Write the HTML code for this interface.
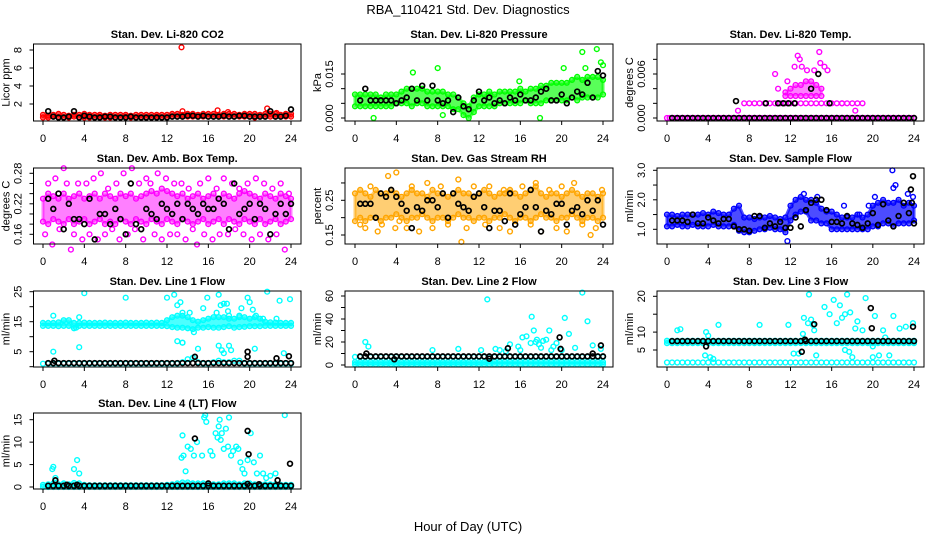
<!DOCTYPE html>
<html><head><meta charset="utf-8"><style>
html,body{margin:0;padding:0;background:#fff;}
svg{display:block;font-family:"Liberation Sans",sans-serif;}
</style></head><body>
<svg id="chart" width="936" height="540" viewBox="0 0 936 540">
<text x="468" y="14" text-anchor="middle" font-size="13">RBA_110421  Std. Dev. Diagnostics</text>
<text x="468" y="531" text-anchor="middle" font-size="13">Hour of Day (UTC)</text>
</svg>
<script>
const xTicks=[0,4,8,12,16,20,24];
// CO2
const co2Lo=[0.5,0.5,0.6,0.5,0.5,0.5,0.6,0.5,0.5,0.5,0.5,0.6,0.5,0.5,0.5,0.5,0.6,0.5,0.5,0.5,0.5,0.5,0.6,0.5,0.5,0.6,0.6,0.6,0.6,0.6,0.6,0.6,0.6,0.6,0.6,0.6,0.6,0.6,0.6,0.6,0.6,0.5,0.6,0.6,0.6,0.6,0.6,0.6,0.6];
const co2Hi=[0.8,0.7,0.8,0.9,0.8,0.7,0.8,0.8,0.9,0.8,0.8,0.8,0.7,0.8,0.8,0.8,0.8,0.7,0.8,0.8,0.8,0.8,0.8,0.8,0.8,0.9,0.9,0.8,0.9,0.9,0.8,0.9,0.9,0.9,0.8,0.9,0.9,0.9,0.8,0.9,0.9,0.9,0.8,0.9,0.9,0.9,0.8,0.9,0.9];
const co2Blk=[1.2,0.6,0.5,0.5,0.6,1.2,0.5,0.7,0.6,0.5,0.5,0.6,0.6,0.5,0.5,0.5,0.6,0.5,0.5,0.5,0.5,0.5,0.5,0.5,0.6,0.6,0.6,0.7,0.7,0.6,0.7,0.6,0.6,0.6,0.7,0.6,0.6,0.7,0.7,0.6,0.6,0.6,0.6,1.2,0.6,0.6,0.7,1.4];
const co2OutT=[13.4,13.5,16.9,17.9,21.7,22.6];
const co2OutV=[8.3,1.2,1.3,1.1,1.5,1.0];
// Pressure
const presLo=[0.004,0.004,0.004,0.004,0.004,0.004,0.004,0.004,0.005,0.005,0.005,0.004,0.005,0.005,0.004,0.004,0.004,0.004,0.004,0.003,0.003,0.001,0.000,0.002,0.004,0.004,0.004,0.004,0.005,0.005,0.005,0.005,0.005,0.006,0.005,0.005,0.005,0.006,0.006,0.006,0.006,0.006,0.007,0.006,0.007,0.007,0.007,0.007,0.008];
const presHi=[0.008,0.008,0.008,0.008,0.008,0.007,0.008,0.008,0.008,0.009,0.010,0.010,0.010,0.010,0.009,0.009,0.009,0.009,0.008,0.008,0.007,0.005,0.004,0.007,0.008,0.008,0.009,0.008,0.009,0.009,0.009,0.009,0.010,0.009,0.010,0.010,0.011,0.011,0.012,0.012,0.012,0.012,0.013,0.014,0.013,0.014,0.014,0.014,0.013];
const presBlk=[0.006,0.010,0.006,0.006,0.006,0.006,0.006,0.005,0.006,0.007,0.010,0.006,0.011,0.006,0.011,0.006,0.005,0.006,0.002,0.007,0.004,0.003,0.006,0.009,0.006,0.007,0.005,0.006,0.005,0.007,0.006,0.008,0.006,0.006,0.007,0.009,0.010,0.006,0.006,0.008,0.005,0.007,0.009,0.008,0.012,0.007,0.016,0.0145];
const presOutT=[1.8,5.6,8.0,8.5,15.9,17.9,20.2,22.0,22.3,23.4,23.8,24.0];
const presOutV=[0,0.0155,0.017,0.001,0.0125,0,0.017,0.0225,0.017,0.0235,0.019,0.018];
// Temp
const tempBase=[0,0,0,0,0,0,0,0,0,0,0,0,0,0,0,0,0,0,0,0,0,0,0,0,0,0,0,0,0,0,0,0,0,0,0,0,0,0,0,0,0,0,0,0,0,0,0,0,0];
const tempBase2=[0,0,0,0,0,0,0,0,0,0,0,0,0,0,0,0,0,0,0,0,0,0,0,0,0,0,0,0,0,0,0,0,0,0,0,0,0,0,0,0,0,0,0,0,0,0,0,0];
const tempLvl=[0.002,0.002,0.002,0.002,0.002,0.002,0.002,0.002,0.002,0.002,0.002,0.002,0.002,0.002,0.002,0.002,0.002,0.002,0.002,0.002,0.002,0.002,0.002];
const tempClLo=[0.003,0.003,0.003,0.003,0.003,0.003,0.003,0.003];
const tempClHi=[0.0035,0.004,0.0045,0.0045,0.005,0.005,0.0045,0.004];
const tempOutT=[6.9,10.5,10.8,11.7,12.4,12.7,12.9,13.1,13.6,14.3,14.8,14.9,15.3,15.6,18.3,19.0,17.0];
const tempOutV=[0.001,0.006,0.004,0.005,0.007,0.0085,0.008,0.007,0.0065,0.0065,0.009,0.0075,0.007,0.0065,0.001,0.002,0.002];
const tempBlk=[0,0,0,0,0,0,0,0,0,0,0,0,0,0,0,0,0,0,0,0,0,0,0,0,0,0,0,0,0,0,0,0,0,0,0,0,0,0,0,0,0,0,0,0,0,0,0,0];
const tempBlkOutT=[6.7,9.6,10.8,11.3,11.8,12.4,14.0,14.7,15.8];
const tempBlkOutV=[0.0023,0.002,0.002,0.002,0.002,0.002,0.004,0.006,0.002];
// Amb box
const ambLo=[0.185,0.18,0.19,0.185,0.18,0.19,0.18,0.185,0.19,0.18,0.185,0.19,0.18,0.185,0.18,0.19,0.185,0.18,0.19,0.185,0.18,0.19,0.185,0.18,0.19,0.185,0.18,0.19,0.185,0.18,0.185,0.19,0.18,0.185,0.19,0.18,0.19,0.185,0.18,0.19,0.185,0.18,0.19,0.18,0.185,0.19,0.18,0.185,0.19];
const ambHi=[0.23,0.24,0.235,0.23,0.24,0.23,0.235,0.24,0.23,0.235,0.24,0.23,0.24,0.235,0.23,0.24,0.235,0.24,0.23,0.235,0.24,0.245,0.24,0.25,0.245,0.24,0.235,0.24,0.23,0.235,0.24,0.23,0.235,0.24,0.23,0.24,0.235,0.23,0.24,0.245,0.24,0.235,0.23,0.24,0.235,0.23,0.24,0.235,0.23];
const ambOutT=[0.2,0.5,0.9,1.2,1.6,2.0,2.3,2.7,3.0,3.4,3.8,4.2,4.5,4.9,5.3,5.6,6.0,6.3,6.7,7.1,7.4,7.8,8.2,8.6,8.9,9.3,9.7,10.0,10.4,10.8,11.1,11.5,11.9,12.3,12.7,13.0,13.4,13.8,14.1,14.5,14.9,15.2,15.6,16.0,16.4,16.8,17.1,17.5,17.9,18.3,18.6,19.0,19.4,19.8,20.2,20.6,21.0,21.4,21.8,22.2,22.6,23.0,23.4,23.8];
const ambOutV=[0.16,0.26,0.14,0.27,0.17,0.29,0.26,0.13,0.16,0.26,0.15,0.26,0.16,0.27,0.15,0.28,0.16,0.25,0.17,0.26,0.15,0.28,0.16,0.29,0.17,0.26,0.15,0.27,0.26,0.16,0.28,0.15,0.27,0.16,0.26,0.16,0.26,0.15,0.25,0.17,0.14,0.26,0.16,0.27,0.15,0.25,0.16,0.27,0.16,0.26,0.17,0.25,0.16,0.26,0.15,0.27,0.16,0.26,0.15,0.25,0.16,0.26,0.13,0.24];
const ambBlk=[0.23,0.21,0.24,0.17,0.22,0.19,0.19,0.18,0.23,0.15,0.20,0.20,0.18,0.21,0.19,0.16,0.26,0.18,0.17,0.21,0.20,0.19,0.22,0.21,0.20,0.22,0.19,0.22,0.21,0.20,0.22,0.21,0.21,0.23,0.22,0.17,0.26,0.20,0.21,0.22,0.19,0.22,0.21,0.16,0.20,0.22,0.20,0.22];
// RH
const rhLo=[0.19,0.20,0.19,0.20,0.20,0.19,0.20,0.20,0.21,0.20,0.19,0.20,0.20,0.21,0.20,0.19,0.20,0.20,0.19,0.20,0.21,0.20,0.20,0.19,0.20,0.20,0.19,0.20,0.20,0.21,0.20,0.19,0.20,0.20,0.19,0.20,0.21,0.20,0.20,0.19,0.20,0.20,0.21,0.20,0.19,0.20,0.20,0.19,0.20];
const rhHi=[0.27,0.28,0.27,0.26,0.28,0.27,0.27,0.28,0.27,0.26,0.27,0.28,0.27,0.27,0.26,0.28,0.27,0.27,0.26,0.27,0.28,0.27,0.27,0.26,0.27,0.28,0.27,0.26,0.27,0.27,0.28,0.27,0.26,0.27,0.28,0.29,0.27,0.26,0.27,0.27,0.26,0.27,0.28,0.27,0.26,0.27,0.27,0.26,0.27];
const rhOutT=[0.5,1.0,1.5,2.2,2.6,3.2,3.9,4.0,4.3,5.0,5.5,6.2,7.0,7.5,8.3,9.0,10.0,10.3,10.8,11.5,12.6,13.0,14.0,14.4,15.0,16.2,17.0,17.5,18.0,18.8,19.5,20.0,20.5,21.2,22.0,22.8,23.3,23.9];
const rhOutV=[0.18,0.17,0.29,0.16,0.18,0.32,0.17,0.33,0.19,0.17,0.29,0.16,0.30,0.17,0.29,0.18,0.31,0.13,0.17,0.29,0.18,0.29,0.17,0.28,0.16,0.29,0.18,0.30,0.16,0.28,0.17,0.29,0.16,0.30,0.18,0.15,0.17,0.28];
const rhBlk=[0.24,0.24,0.24,0.20,0.27,0.26,0.28,0.26,0.24,0.22,0.17,0.23,0.22,0.25,0.25,0.23,0.27,0.20,0.27,0.24,0.23,0.22,0.26,0.27,0.23,0.17,0.22,0.22,0.19,0.27,0.18,0.21,0.23,0.28,0.23,0.16,0.22,0.21,0.24,0.24,0.18,0.22,0.23,0.21,0.25,0.22,0.25,0.18];
// Sample flow
const sfLo=[1.1,1.1,1.15,1.1,1.1,1.15,1.1,1.1,1.1,1.15,1.1,1.1,1.1,1.15,0.95,0.9,0.9,0.95,1.0,1.0,1.05,1.0,1.0,0.9,1.3,1.5,1.6,1.6,1.3,1.3,1.2,1.2,1.0,1.0,1.0,1.0,1.0,1.0,1.0,1.0,1.1,1.1,1.2,1.2,1.1,1.2,1.2,1.2,1.3];
const sfHi=[1.5,1.5,1.45,1.5,1.5,1.5,1.5,1.55,1.5,1.6,1.55,1.5,1.5,1.7,1.8,1.4,1.4,1.35,1.4,1.4,1.45,1.4,1.35,1.4,1.8,2.0,2.1,2.0,2.0,1.9,1.7,1.6,1.6,1.5,1.4,1.4,1.4,1.5,1.4,1.5,1.8,1.9,2.0,1.9,1.9,2.0,1.8,1.9,1.8];
const sfOutT=[11.7,20.2,21.9,22.0,22.2,23.4,23.9,13.3,14.6,17.2,18.7,19.6];
const sfOutV=[0.6,2.1,3.0,2.4,2.5,2.2,2.1,2.2,2.1,1.8,1.5,1.8];
const sfBlk=[1.3,1.3,1.3,1.25,1.5,1.2,1.2,1.4,1.3,1.2,1.35,1.35,1.1,1.0,1.0,0.95,1.45,1.45,1.05,1.2,1.1,1.25,1.05,1.05,1.4,1.1,1.65,1.9,2.0,2.0,1.65,1.25,1.25,1.2,1.45,1.2,1.15,1.05,1.2,1.55,1.15,1.85,1.3,1.1,1.45,1.9,1.55,1.2];
const sfBlkOutT=[23.7,23.9,23.8];
const sfBlkOutV=[2.35,2.8,1.9];
// Line 1
const l1Lo=[13.6,13.6,13.6,13.5,13.6,13.6,12.8,13.6,13.6,13.6,13.6,13.6,13.6,13.6,13.6,13.6,13.6,13.6,13.6,13.6,13.6,13.6,13.6,13.6,13.5,13.2,13.0,13.0,12.8,12.5,13.0,13.0,13.2,13.0,13.0,13.2,13.5,13.0,13.2,13.3,13.5,13.5,13.5,13.6,13.6,13.6,13.6,13.6,13.6];
const l1Hi=[14.6,14.6,14.6,14.8,15.5,15.5,14.6,14.6,14.7,14.6,14.6,14.6,14.7,14.6,14.6,14.6,14.7,14.6,14.6,14.6,14.7,14.6,14.7,14.6,15.5,16.5,17.0,17.0,16.5,15.5,15.0,15.5,16.0,16.5,16.5,16.5,16.0,16.0,16.5,16.5,16.0,16.5,16.0,15.0,14.8,14.7,14.6,14.6,14.6];
const l1Base=[1.0,1.0,1.0,1.0,1.0,1.0,1.0,1.0,1.0,1.0,1.0,1.0,1.0,1.0,1.0,1.0,1.0,1.0,1.0,1.0,1.0,1.0,1.0,1.0,1.0,1.0,1.0,1.5,2.5,3.0,1.5,1.0,1.0,1.5,2.0,1.5,1.5,2.0,2.0,1.0,1.0,1.0,1.0,1.0,1.0,1.0,1.0,1.0,1.0];
const l1OutT=[1.0,1.0,3.2,3.5,3.5,4.0,8.0,12.0,12.7,13.0,13.3,13.5,13.5,14.2,14.6,15.5,15.9,16.8,17.0,17.2,17.5,17.8,17.9,18.0,19.0,19.2,19.8,20.0,20.3,20.6,21.3,21.7,22.6,22.9,23.3,23.9,13.0,13.5,15.0,17.0,17.3,17.5,18.0,18.2,20.5];
const l1OutV=[5,17,13,6.5,16.5,24.5,23,23,24,20.5,21.5,18,8,18,11.5,19.5,23,18,24,20.5,21,21,18.5,17,17,19.5,23,21.5,19,17,16,25,16,22,4.5,22.5,8.5,8,6,7,5.5,4.5,7,5.5,6];
const l1Blk=[1.2,1.2,1.2,1.2,1.2,1.2,1.2,1.2,1.2,1.2,1.2,1.2,1.2,1.2,1.2,1.2,1.2,1.2,1.2,1.2,1.2,1.2,1.2,1.2,1.2,1.2,1.2,1.2,1.2,1.2,1.2,1.2,1.2,1.2,1.2,1.2,1.2,1.2,1.2,1.2,1.2,1.2,1.2,1.2,1.2,1.2,1.2,1.2];
const l1BlkOutT=[1.1,14.7,19.8,19.8,22.6,23.8];
const l1BlkOutV=[2,3.3,5,3.3,2.8,3.5];
// Line 2
const l2Lo=[0.5,0.5,0.5,0.5,0.5,0.5,0.5,0.5,0.5,0.5,0.5,0.5,0.5,0.5,0.5,0.5,0.5,0.5,0.5,0.5,0.5,0.5,0.5,0.5,0.5,0.5,0.5,0.5,0.5,0.5,0.5,0.5,0.5,0.5,0.5,0.5,0.5,0.5,0.5,0.5,0.5,0.5,0.5,0.5,0.5,0.5,0.5,0.5,0.5];
const l2Hi=[2.5,2.5,2.5,2.5,2.5,2.5,2.5,2.5,2.5,2.5,2.5,2.5,2.5,2.5,2.5,2.5,2.5,2.5,2.5,2.5,2.5,2.5,2.5,2.5,2.5,2.5,3,3,3,3,3,3,3,3,3,3,3,3,3,3,3,3,3,3,3,3,3,3,2.5];
const l2Lvl=[7,7,7,7,7,7,7,7,7,7,7,7,7,7,7,7,7,7,7,7,7,7,7,7,7,7,7,7,7,7,7,7,7,7,7,7,7,7,7,7,7,7,7,7,7,7,7,7,7];
const l2OutT=[1.0,1.3,7.5,10.0,12.8,13.6,14.0,15.0,15.8,16.2,16.6,17.0,17.1,17.3,17.6,17.8,18.2,18.5,18.8,19.2,19.5,20.0,20.3,20.7,21.3,22.0,22.5,23.0,23.8,17.5,18.0,19.0,14.6,16.0,12.2];
const l2OutV=[20,16,13,14,57,14,13,18,16,24,25,19,42,30,22,18,21,22,30,16,19,13,41,27,15,63,38,17,14,20,15,13,12,13,13];
const l2Blk=[7.5,7.5,7.5,7.5,7.5,7.5,7.5,7.5,7.5,7.5,7.5,7.5,7.5,7.5,7.5,7.5,7.5,7.5,7.5,7.5,7.5,7.5,7.5,7.5,7.5,7.5,7.5,7.5,7.5,7.5,7.5,7.5,7.5,7.5,7.5,7.5,7.5,7.5,7.5,7.5,7.5,7.5,7.5,7.5,7.5,7.5,7.5,7.5];
const l2BlkOutT=[1.1,3.8,13.0,14.8,19.8,19.9,23.0,23.8];
const l2BlkOutV=[10,5,5.5,14.5,24,14,10,17];
// Line 3
const l3Base=[1.5,1.5,1.5,1.5,1.5,1.5,1.5,1.5,1.5,1.5,1.5,1.5,1.5,1.5,1.5,1.5,1.5,1.5,1.5,1.5,1.5,1.5,1.5,1.5,1.5,1.5,1.5,1.5,1.5,1.5,1.5,1.5,1.5,1.5,1.5,1.5,1.5,1.5,1.5,1.5,1.5,1.5,1.5,1.5,1.5,1.5,1.5,1.5,1.5];
const l3Lo=[6.9,6.9,6.9,6.9,6.9,6.9,6.9,6.9,6.9,6.9,6.9,6.9,6.9,6.9,6.9,6.9,6.9,6.9,6.9,6.9,6.9,6.9,6.9,6.9,6.9,6.9,6.9,6.9,6.9,6.9,6.9,6.9,6.9,6.9,6.9,6.9,6.9,6.9,6.9,6.9,6.9,6.9,6.9,6.9,6.9,6.9,6.9,6.9,6.9];
const l3Hi=[7.6,7.6,7.6,7.6,7.6,7.6,7.6,7.6,7.6,7.6,7.6,7.6,7.6,7.6,7.6,7.6,7.6,7.6,7.6,7.6,7.6,7.6,7.6,7.6,7.6,7.6,7.6,7.6,7.6,7.6,7.6,7.6,7.6,7.6,7.6,7.6,7.6,7.6,7.6,7.6,7.6,7.6,7.6,7.6,7.6,7.6,7.6,7.6,7.6];
const l3OutT=[1.0,1.3,3.7,3.8,4.0,4.2,4.5,5.0,9.0,11.8,12.8,13.2,13.3,13.8,14.0,14.2,14.3,14.5,15.3,15.8,16.2,16.5,16.8,17.0,17.3,17.5,17.7,17.8,18.0,18.3,18.5,19.0,19.3,20.0,20.2,20.6,21.0,21.2,21.6,22.0,22.6,23.2,23.9,12.3,13.7,17.3,20.0];
const l3OutV=[10.5,10.8,3.5,10,9,3,2.5,12,12,12,4,9.5,14,20.5,13.5,12,10.5,3.5,17,15,19,12.5,17.5,14,15,20.5,4.5,15.5,3,11,13,10.5,19.5,3,14.5,3.5,10.5,8.5,3.5,14.5,11,11.5,12.5,4,12.5,5,6];
const l3Blk=[7.5,7.5,7.5,7.5,7.5,7.5,7.5,7.5,7.5,7.5,7.5,7.5,7.5,7.5,7.5,7.5,7.5,7.5,7.5,7.5,7.5,7.5,7.5,7.5,7.5,7.5,7.5,7.5,7.5,7.5,7.5,7.5,7.5,7.5,7.5,7.5,7.5,7.5,7.5,7.5,7.5,7.5,7.5,7.5,7.5,7.5,7.5,7.5];
const l3BlkOutT=[3.8,13.1,13.4,14.3,19.8,19.9,23.9];
const l3BlkOutV=[6,4.5,7.9,12.2,16.7,11.1,11.5];
// Line 4
const l4Lo=[0,0,0,0,0,0,0,0,0,0,0,0,0,0,0,0,0,0,0,0,0,0,0,0,0,0,0,0,0,0,0,0,0,0,0,0,0,0,0,0,0,0,0,0,0,0,0,0,0];
const l4Hi=[0.5,0.6,0.8,0.6,0.8,0.6,0.9,0.8,0.5,0.4,0.4,0.4,0.4,0.4,0.4,0.4,0.4,0.4,0.4,0.4,0.4,0.4,0.4,0.4,0.5,0.6,0.8,1.0,1.0,0.8,0.8,0.8,0.6,0.6,0.6,0.8,0.8,0.8,0.6,0.8,0.8,0.6,0.6,0.6,0.6,0.6,0.5,0.5,0.5];
const l4OutT=[0.9,1.0,1.2,3.0,3.3,3.5,13.4,13.5,13.6,13.8,14.0,14.3,14.6,14.9,15.4,15.6,15.7,15.8,16.2,16.4,16.7,16.9,17.0,17.1,17.2,17.3,17.5,17.7,17.9,18.0,18.2,18.4,18.7,18.9,19.1,19.3,19.5,19.8,20.1,20.4,20.7,21.0,21.3,21.6,22.0,22.5,23.4,12.7];
const l4OutV=[4,4.5,2,4,6,3,6.5,11.5,7,3.5,9,8.5,7,10,7,15.5,16,14.5,8,7,12,11,13.5,15,10.5,12,8.5,13,9,15.5,7,8,9,8.5,5.5,4,3,6,12,5.5,3,7,3,2,2.5,3,16];
const l4Blk=[0.3,0.3,0.3,0.3,0.3,0.3,0.3,0.3,0.3,0.3,0.3,0.3,0.3,0.3,0.3,0.3,0.3,0.3,0.3,0.3,0.3,0.3,0.3,0.3,0.3,0.3,0.3,0.3,0.3,0.3,0.3,0.3,0.3,0.3,0.3,0.3,0.3,0.3,0.3,0.3,0.3,0.3,0.3,0.3,0.3,0.3,0.3,0.3];
const l4BlkOutT=[1.2,2.3,3.3,14.7,16.0,19.8,19.9,22.7,23.9,19.8,20.9];
const l4BlkOutV=[1.5,0.5,0.5,10.8,0.8,12.5,7.3,1.5,5.2,0.7,0.6];

const NS='http://www.w3.org/2000/svg';
const svg=document.getElementById('chart');
const colL=[33.5,345,657], colX0=[43,355,667], colX24=[291,603,914], colR=[301,613,924];
const rowT=[44,168,291,413], rowB=[121,244,367,489];
function mk(tag,attrs,parent){const e=document.createElementNS(NS,tag);for(const k in attrs)e.setAttribute(k,attrs[k]);parent.appendChild(e);return e;}

function panel(p){
  const g=mk('g',{},svg);
  
  
  const L=colL[p.c],R=colR[p.c],T=rowT[p.r],B=rowB[p.r],x0=colX0[p.c],x24=colX24[p.c];
  const xs=t=>x0+t*(x24-x0)/24;
  const ys=v=>p.cal[1]+(v-p.cal[0])*(p.cal[3]-p.cal[1])/(p.cal[2]-p.cal[0]);
  const uni=(arr,t0,t1)=>arr.map((v,i)=>[t0+i*(t1-t0)/Math.max(1,arr.length-1),v]);
  const dot=(parent,t,v,col,w)=>mk('circle',{cx:xs(t).toFixed(1),cy:ys(v).toFixed(1),r:2.4,fill:'none',stroke:col,'stroke-width':w},parent);
  const op=p.op||0.7;
  const sg=mk('g',{},g);
  
  
  (p.bands||[]).forEach(b=>{
    const lo=uni(b.lo,b.t0,b.t1), hi=uni(b.hi,b.t0,b.t1);
    const pts=lo.map(q=>xs(q[0]).toFixed(1)+','+ys(q[1]).toFixed(1)).concat(hi.slice().reverse().map(q=>xs(q[0]).toFixed(1)+','+ys(q[1]).toFixed(1)));
    const poly=mk('polygon',{points:pts.join(' '),fill:p.col,'fill-opacity':op,stroke:p.col,'stroke-opacity':op,'stroke-width':3,'stroke-linejoin':'round'},sg);
    
    
    lo.concat(hi).forEach(q=>dot(sg,q[0],q[1],p.col,1.4));
  });
  (p.lines||[]).forEach(l=>{uni(l.v,l.t0,l.t1).forEach(q=>dot(sg,q[0],q[1],p.col,1.4));});
  (p.outs||[]).forEach(o=>{const n=Math.min(o.t.length,o.v.length);for(let i=0;i<n;i++)dot(sg,o.t[i],o.v[i],p.col,1.4);});
  const bg=mk('g',{},g);
  
  
  uni(p.blk,0.5,24).forEach(q=>dot(bg,q[0],q[1],'#000',1.7));
  if(p.bo){const n=Math.min(p.bo[0].length,p.bo[1].length);for(let i=0;i<n;i++)dot(bg,p.bo[0][i],p.bo[1][i],'#000',1.7);}
  const box=mk('rect',{x:L,y:T,width:R-L,height:B-T,fill:'none',stroke:'#000','stroke-width':1},g);
  
  
  const xa=mk('g',{},g);
  
  
  xTicks.forEach(t=>{
    mk('line',{x1:xs(t),x2:xs(t),y1:B,y2:B+4,stroke:'#000'},xa);
    const tx=mk('text',{x:xs(t),y:B+21,'text-anchor':'middle','font-size':11},xa);tx.textContent=t;
  });
  const ya=mk('g',{},g);
  
  
  p.yt.forEach((v,i)=>{
    const y=ys(v);
    mk('line',{x1:L-4,x2:L,y1:y,y2:y,stroke:'#000'},ya);
    if(p.yl[i]){const tx=mk('text',{x:L-12,y:y,'text-anchor':'middle','font-size':11,transform:`rotate(-90 ${L-12} ${y})`},ya);tx.textContent=p.yl[i];}
  });
  const yt=mk('text',{x:L-24,y:(T+B)/2,'text-anchor':'middle','font-size':11,transform:`rotate(-90 ${L-24} ${(T+B)/2})`},g);
  yt.textContent=p.ylab;
  
  
  const ti=mk('text',{x:(L+R)/2,y:T-6,'text-anchor':'middle','font-size':11,'font-weight':'bold'},g);
  ti.textContent=p.title;
  
  
}

panel({name:'co2',c:0,r:0,title:'Stan. Dev. Li-820 CO2',ylab:'Licor ppm',col:'#ff0000',cal:[2,104,8,50],yt:[2,4,6,8],yl:['2','4','6','8'],
  bands:[{lo:co2Lo,hi:co2Hi,t0:0,t1:24}],outs:[{t:co2OutT,v:co2OutV}],blk:co2Blk});
panel({name:'pressure',c:1,r:0,title:'Stan. Dev. Li-820 Pressure',ylab:'kPa',col:'#00ff00',op:0.65,cal:[0,118,0.015,74],yt:[0,0.005,0.01,0.015],yl:['0.000','','','0.015'],
  bands:[{lo:presLo,hi:presHi,t0:0,t1:24}],outs:[{t:presOutT,v:presOutV}],blk:presBlk});
panel({name:'temp',c:2,r:0,title:'Stan. Dev. Li-820 Temp.',ylab:'degrees C',col:'#ff00ff',op:0.5,cal:[0,118,0.006,74],yt:[0,0.002,0.004,0.006,0.008],yl:['0.000','','','0.006',''],
  bands:[{lo:tempClLo,hi:tempClHi,t0:11.5,t1:15}],lines:[{v:tempBase,t0:0,t1:24},{v:tempBase2,t0:0.25,t1:23.75},{v:tempLvl,t0:7.5,t1:18.5}],outs:[{t:tempOutT,v:tempOutV}],blk:tempBlk,bo:[tempBlkOutT,tempBlkOutV]});
panel({name:'amb-box-temp',c:0,r:1,title:'Stan. Dev. Amb. Box Temp.',ylab:'degrees C',col:'#ff00ff',op:0.5,cal:[0.16,234.3,0.28,173.3],yt:[0.16,0.18,0.2,0.22,0.24,0.26,0.28],yl:['0.16','','','0.22','','','0.28'],
  bands:[{lo:ambLo,hi:ambHi,t0:0,t1:24}],outs:[{t:ambOutT,v:ambOutV}],blk:ambBlk});
panel({name:'gas-stream-rh',c:1,r:1,title:'Stan. Dev. Gas Stream RH',ylab:'percent',col:'#ffa500',op:0.55,cal:[0.15,235,0.25,200.3],yt:[0.15,0.2,0.25,0.3],yl:['0.15','','0.25',''],
  bands:[{lo:rhLo,hi:rhHi,t0:0,t1:24}],outs:[{t:rhOutT,v:rhOutV}],blk:rhBlk});
panel({name:'sample-flow',c:2,r:1,title:'Stan. Dev. Sample Flow',ylab:'ml/min',col:'#0000ff',op:0.7,cal:[1,229.3,3,170.3],yt:[1,1.5,2,2.5,3],yl:['1.0','','2.0','','3.0'],
  bands:[{lo:sfLo,hi:sfHi,t0:0,t1:24}],outs:[{t:sfOutT,v:sfOutV}],blk:sfBlk,bo:[sfBlkOutT,sfBlkOutV]});
panel({name:'line1-flow',c:0,r:2,title:'Stan. Dev. Line 1 Flow',ylab:'ml/min',col:'#00ffff',cal:[5,351.7,25,291.7],yt:[0,5,10,15,20,25],yl:['','5','','15','','25'],
  bands:[{lo:l1Lo,hi:l1Hi,t0:0,t1:24}],lines:[{v:l1Base,t0:0,t1:24}],outs:[{t:l1OutT,v:l1OutV}],blk:l1Blk,bo:[l1BlkOutT,l1BlkOutV]});
panel({name:'line2-flow',c:1,r:2,title:'Stan. Dev. Line 2 Flow',ylab:'ml/min',col:'#00ffff',cal:[0,365,60,296],yt:[0,10,20,30,40,50,60],yl:['0','','20','','40','','60'],
  bands:[{lo:l2Lo,hi:l2Hi,t0:0,t1:24}],lines:[{v:l2Lvl,t0:0,t1:24}],outs:[{t:l2OutT,v:l2OutV}],blk:l2Blk,bo:[l2BlkOutT,l2BlkOutV]});
panel({name:'line3-flow',c:2,r:2,title:'Stan. Dev. Line 3 Flow',ylab:'ml/min',col:'#00ffff',cal:[5,350,20,296.3],yt:[5,10,15,20],yl:['5','10','','20'],
  bands:[{lo:l3Lo,hi:l3Hi,t0:0,t1:24}],lines:[{v:l3Base,t0:0,t1:24}],outs:[{t:l3OutT,v:l3OutV}],blk:l3Blk,bo:[l3BlkOutT,l3BlkOutV]});
panel({name:'line4-flow',c:0,r:3,title:'Stan. Dev. Line 4 (LT) Flow',ylab:'ml/min',col:'#00ffff',cal:[0,487,15,419.7],yt:[0,5,10,15],yl:['0','5','10','15'],
  bands:[{lo:l4Lo,hi:l4Hi,t0:0,t1:24}],outs:[{t:l4OutT,v:l4OutV}],blk:l4Blk,bo:[l4BlkOutT,l4BlkOutV]});
</script>
</body></html>
